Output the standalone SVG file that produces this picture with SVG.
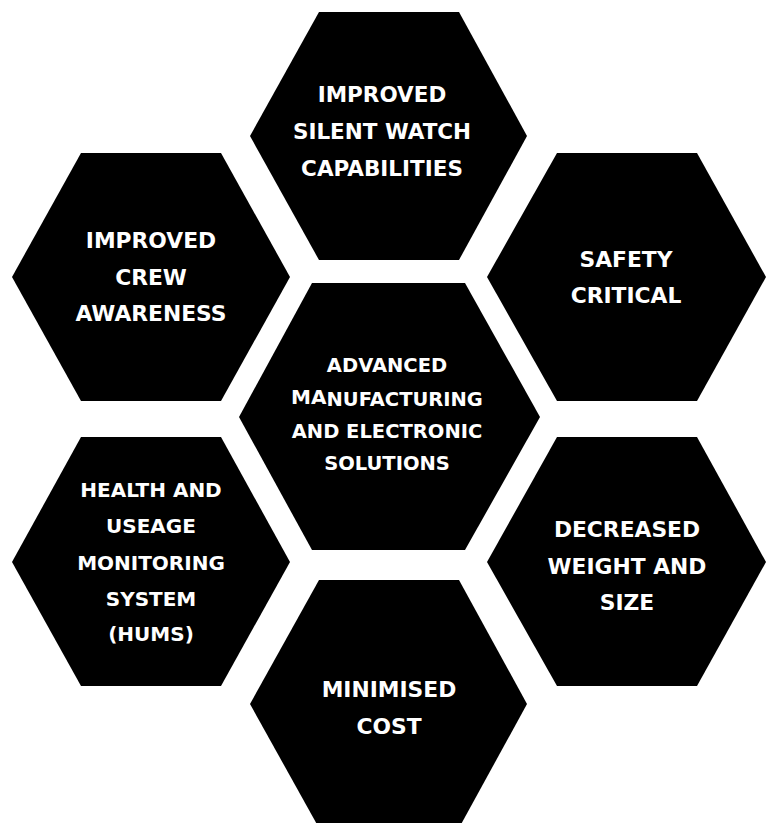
<svg xmlns="http://www.w3.org/2000/svg" width="771" height="823" viewBox="0 0 771 823">
<style>
.hex{fill:#000}
.t{fill:#fff;font-family:"DejaVu Sans","Liberation Sans",sans-serif;font-weight:bold;text-anchor:middle}
</style>
<rect width="771" height="823" fill="#fff"/>
<g id="node-silent-watch">
<polygon class="hex" points="250,136 319,12 459,12 527,136 459,260 319,260"/>
<text class="t" font-size="21.5"><tspan x="382" y="102">IMPROVED</tspan><tspan x="382" y="139">SILENT WATCH</tspan><tspan x="382" y="176">CAPABILITIES</tspan></text>
</g>
<g id="node-crew-awareness">
<polygon class="hex" points="12,277 81,153 221,153 290,277 221,401 81,401"/>
<text class="t" font-size="21.8"><tspan x="151" y="248">IMPROVED</tspan><tspan x="151" y="285">CREW</tspan><tspan x="151" y="321">AWARENESS</tspan></text>
</g>
<g id="node-safety-critical">
<polygon class="hex" points="487,277 557,153 697,153 766,277 697,401 557,401"/>
<text class="t" font-size="21.8"><tspan x="626" y="267">SAFETY</tspan><tspan x="626" y="303">CRITICAL</tspan></text>
</g>
<g id="node-center">
<polygon class="hex" points="239,417 312,283 465,283 540,417 465,550 312,550"/>
<text class="t" font-size="19.5"><tspan x="387" y="372">ADVANCED</tspan><tspan x="387" y="406"><tspan font-size="20" dy="-2.5">MA</tspan><tspan dy="2.5">NUFACTURING</tspan></tspan><tspan x="387" y="438">AND ELECTRONIC</tspan><tspan x="387" y="470">SOLUTIONS</tspan></text>
</g>
<g id="node-hums">
<polygon class="hex" points="12,562 81,437 221,437 290,562 221,686 81,686"/>
<text class="t" font-size="20"><tspan x="151" y="497">HEALTH AND</tspan><tspan x="151" y="533">USEAGE</tspan><tspan x="151" y="570">MONITORING</tspan><tspan x="151" y="606">SYSTEM</tspan><tspan x="151" y="641">(HUMS)</tspan></text>
</g>
<g id="node-weight-size">
<polygon class="hex" points="487,562 557,437 697,437 766,562 697,686 557,686"/>
<text class="t" font-size="21.8"><tspan x="627" y="537">DECREASED</tspan><tspan x="627" y="574">WEIGHT AND</tspan><tspan x="627" y="610">SIZE</tspan></text>
</g>
<g id="node-minimised-cost">
<polygon class="hex" points="250,704 319,580 459,580 527,704 459,828 319,828"/>
<text class="t" font-size="21.8"><tspan x="389" y="697">MINIMISED</tspan><tspan x="389" y="734">COST</tspan></text>
</g>
<g id="connectors"></g>
</svg>
